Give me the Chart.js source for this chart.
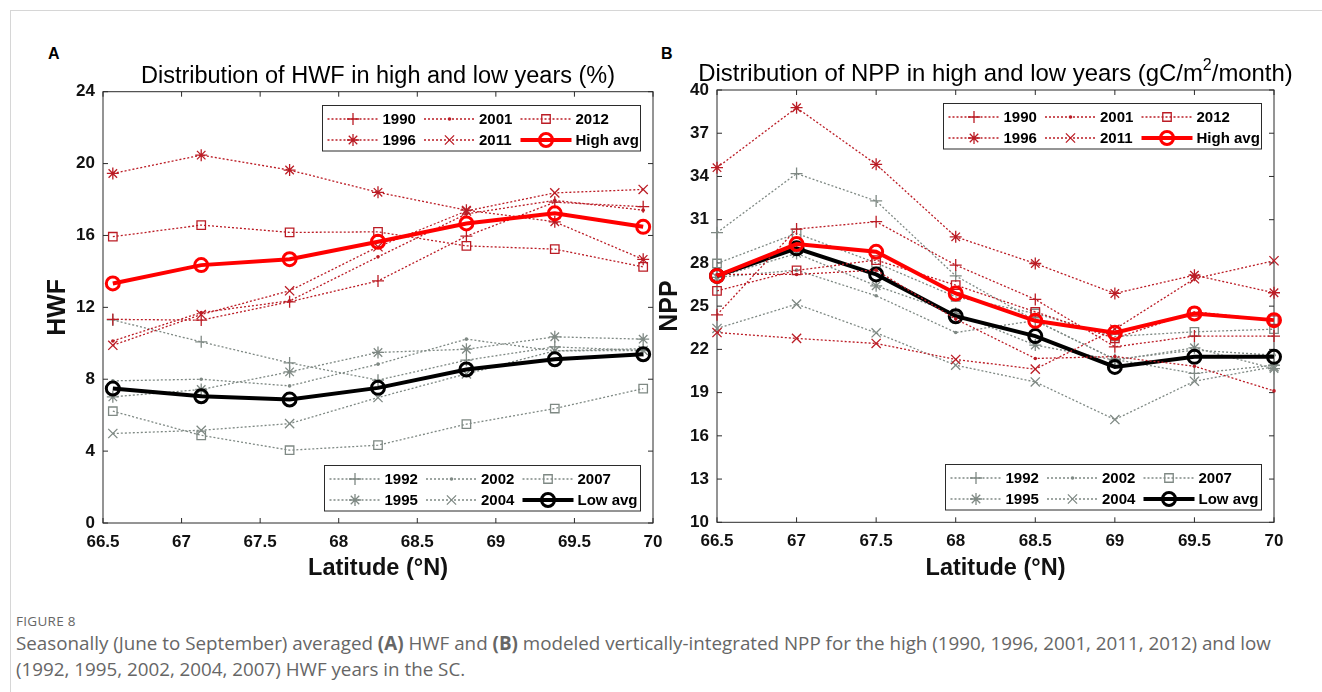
<!DOCTYPE html>
<html>
<head>
<meta charset="utf-8">
<script src="https://cdn.jsdelivr.net/npm/chart.js@4/dist/chart.umd.min.js"></script>
<style>
  body { margin: 0; background: #fff; }
  #page { position: relative; width: 1322px; height: 692px; overflow: hidden; font-family: 'Liberation Sans', Arial, sans-serif; }
  #page .rule-top { position: absolute; left: 10px; right: 0; top: 10px; border-top: 1px solid #d6d6d6; }
  #page .rule-left { position: absolute; left: 10px; top: 10px; bottom: 0; border-left: 1px solid #d6d6d6; }
  .panel-tag { position: absolute; top: 45px; font-size: 16px; font-weight: bold; color: #000; }
  canvas { position: absolute; top: 0; }
  #cap { position: absolute; left: 16px; top: 612px; color: #666; font-family: 'Open Sans', sans-serif; }
  #cap .fig { font-size: 13.5px; letter-spacing: 0.3px; }
  #cap .txt { font-size: 18.8px; line-height: 25.5px; margin-top: 1px; }
</style>
</head>
<body>
<div id="page">
  <div class="rule-top"></div>
  <div class="rule-left"></div>
  <div class="panel-tag" style="left:48px">A</div>
  <div class="panel-tag" style="left:661px">B</div>
  <canvas id="chartA" width="690" height="600" style="left:0"></canvas>
  <canvas id="chartB" width="682" height="600" style="left:640px"></canvas>
  <div id="cap">
    <div class="fig">FIGURE 8</div>
    <div class="txt">Seasonally (June to September) averaged <b>(A)</b> HWF and <b>(B)</b> modeled vertically-integrated NPP for the high (1990, 1996, 2001, 2011, 2012) and low<br>(1992, 1995, 2002, 2004, 2007) HWF years in the SC.</div>
  </div>
</div>
<script>
// latitudes of the grid rows (panel A sits on a 9/16 degree grid)
const latA = [66.5625, 67.125, 67.6875, 68.25, 68.8125, 69.375, 69.9375];
const latB = [66.5, 67, 67.5, 68, 68.5, 69, 69.5, 70];
const xTickLabels = ['66.5', '67', '67.5', '68', '68.5', '69', '69.5', '70'];

// HWF (%) -- high years
const hwf1990 = [11.33, 11.29, 12.31, 13.47, 15.96, 17.85, 17.60];
const hwf1996 = [19.45, 20.47, 19.64, 18.40, 17.41, 16.76, 14.67];
const hwf2001 = [10.13, 11.71, 12.36, 14.81, 17.20, 17.95, 17.41];
const hwf2011 = [9.89, 11.60, 12.92, 15.37, 17.36, 18.37, 18.56];
const hwf2012 = [15.93, 16.58, 16.17, 16.20, 15.42, 15.24, 14.25];
const hwfHighAvg = [13.33, 14.35, 14.68, 15.65, 16.67, 17.23, 16.48];
// HWF (%) -- low years
const hwf1992 = [11.30, 10.08, 8.91, 7.95, 9.06, 9.80, 9.60];
const hwf1995 = [7.02, 7.43, 8.41, 9.49, 9.67, 10.36, 10.23];
const hwf2002 = [7.91, 8.00, 7.63, 8.84, 10.23, 9.58, 9.70];
const hwf2004 = [4.98, 5.16, 5.53, 6.98, 8.30, 9.58, 9.60];
const hwf2007 = [6.22, 4.88, 4.05, 4.33, 5.50, 6.37, 7.48];
const hwfLowAvg = [7.48, 7.05, 6.87, 7.52, 8.54, 9.11, 9.39];

// NPP (gC/m2/month) -- high years
const npp1990 = [24.40, 30.35, 30.86, 27.85, 25.47, 22.18, 22.92, 22.92];
const npp1996 = [34.61, 38.77, 34.84, 29.81, 27.96, 25.88, 27.15, 25.93];
const npp2001 = [27.20, 27.20, 27.50, 24.10, 21.37, 21.50, 20.83, 19.12];
const npp2011 = [23.17, 22.76, 22.41, 21.30, 20.63, 23.40, 26.90, 28.15];
const npp2012 = [26.06, 27.48, 28.20, 26.46, 24.61, 22.76, 24.60, 24.03];
const nppHighAvg = [27.10, 29.31, 28.77, 25.88, 23.98, 23.15, 24.49, 24.03];
// NPP -- low years
const npp1992 = [30.10, 34.20, 32.30, 27.10, 24.00, 21.30, 20.33, 20.90];
const npp1995 = [27.00, 28.66, 26.41, 24.50, 22.30, 21.25, 22.11, 20.67];
const npp2002 = [27.00, 27.50, 25.72, 23.17, 24.00, 21.30, 21.95, 21.60];
const npp2004 = [23.45, 25.14, 23.15, 20.90, 19.74, 17.13, 19.79, 20.80];
const npp2007 = [27.96, 30.05, 28.00, 25.65, 24.49, 22.90, 23.22, 23.40];
const nppLowAvg = [27.10, 29.01, 27.20, 24.30, 22.92, 20.78, 21.48, 21.48];

const FONT = "'Liberation Sans', Arial, sans-serif";
const RED = '#bb1c25', GRAY = '#7f8984';
const MARK = {
  plus:   { pointStyle: 'cross', pointRadius: 6, pointBorderWidth: 1.3 },
  star:   { pointStyle: 'star', pointRadius: 6, pointBorderWidth: 1.3 },
  dot:    { pointStyle: 'circle', pointRadius: 1.8, pointBorderWidth: 0, filled: true },
  xmark:  { pointStyle: 'crossRot', pointRadius: 6.5, pointBorderWidth: 1.3 },
  square: { pointStyle: 'rect', pointRadius: 6, pointBorderWidth: 1.3 },
};

Chart.defaults.font.family = FONT;
Chart.defaults.color = '#111';

function yearSet(label, lats, vals, color, m, grp, order) {
  return {
    label, grp, order,
    data: lats.map((x, i) => ({ x, y: vals[i] })),
    borderColor: color, borderWidth: 1.3, borderDash: [2, 2], tension: 0, clip: false,
    pointStyle: m.pointStyle, pointRadius: m.pointRadius, pointHoverRadius: m.pointRadius,
    pointBorderWidth: m.pointBorderWidth, pointBorderColor: color,
    pointBackgroundColor: m.filled ? color : 'rgba(0,0,0,0)',
  };
}
function avgSet(label, lats, vals, color, grp, order) {
  return {
    label, grp, order,
    data: lats.map((x, i) => ({ x, y: vals[i] })),
    borderColor: color, borderWidth: 4, tension: 0, clip: false,
    pointStyle: 'circle', pointRadius: 6.5, pointHoverRadius: 6.5, pointBorderWidth: 3,
    pointBorderColor: color, pointBackgroundColor: 'rgba(0,0,0,0)',
  };
}

// box around the plot with inward ticks on all four sides
const boxTicks = {
  id: 'boxTicks',
  beforeDatasetsDraw(chart) {
    const { ctx, chartArea: a, scales: { x, y } } = chart;
    ctx.save();
    ctx.strokeStyle = '#2b2b2b';
    ctx.lineWidth = 1;
    ctx.strokeRect(a.left, a.top, a.right - a.left, a.bottom - a.top);
    ctx.beginPath();
    x.ticks.forEach(t => {
      const p = x.getPixelForValue(t.value);
      ctx.moveTo(p, a.bottom); ctx.lineTo(p, a.bottom - 5);
      ctx.moveTo(p, a.top); ctx.lineTo(p, a.top + 5);
    });
    y.ticks.forEach(t => {
      const p = y.getPixelForValue(t.value);
      ctx.moveTo(a.left, p); ctx.lineTo(a.left + 5, p);
      ctx.moveTo(a.right, p); ctx.lineTo(a.right - 5, p);
    });
    ctx.stroke();
    ctx.restore();
  }
};

// axes title centred over the plot box; parts may be superscripts
const axTitle = {
  id: 'axTitle',
  afterDraw(chart, args, opts) {
    const { ctx, chartArea: a } = chart;
    const big = opts.size + 'px ' + FONT, small = '16px ' + FONT;
    ctx.save();
    const widths = opts.parts.map(p => { ctx.font = p.sup ? small : big; return ctx.measureText(p.text).width; });
    let x = (a.left + a.right) / 2 - widths.reduce((s, w) => s + w, 0) / 2;
    const base = a.top - 8.7;
    ctx.fillStyle = '#000';
    ctx.textBaseline = 'alphabetic';
    opts.parts.forEach((p, i) => {
      ctx.font = p.sup ? small : big;
      ctx.fillText(p.text, x, p.sup ? base - 11 : base);
      x += widths[i];
    });
    ctx.restore();
  }
};

// two MATLAB-style legends inside the axes (top-right and bottom-right)
const insetLegend = {
  id: 'insetLegend',
  afterDraw(chart, args, opts) {
    const { ctx, chartArea: a } = chart;
    opts.boxes.forEach(b => {
      const sets = chart.data.datasets.filter(d => d.grp === b.grp);
      const w = b.width, h = 45.5;
      const x0 = Math.round(a.right - 13 - w) + 0.5;
      const y0 = Math.round(b.at === 'top' ? a.top + 13 : a.bottom - 13 - h) + 0.5;
      ctx.save();
      ctx.fillStyle = '#fff';
      ctx.fillRect(x0, y0, w, h);
      ctx.strokeStyle = '#2b2b2b';
      ctx.lineWidth = 1;
      ctx.strokeRect(x0, y0, w, h);
      sets.forEach((d, k) => {
        const col = Math.floor(k / 2), row = k % 2;
        const lx = x0 + 5 + col * 96.5, ly = y0 + 13.5 + row * 21;
        ctx.strokeStyle = d.borderColor;
        ctx.lineWidth = d.borderWidth;
        ctx.setLineDash(d.borderDash || []);
        ctx.beginPath(); ctx.moveTo(lx, ly); ctx.lineTo(lx + 51, ly); ctx.stroke();
        ctx.setLineDash([]);
        ctx.fillStyle = d.pointBackgroundColor;
        ctx.strokeStyle = d.pointBorderColor;
        ctx.lineWidth = d.pointBorderWidth;
        Chart.helpers.drawPoint(ctx, { pointStyle: d.pointStyle, radius: d.pointRadius, borderWidth: d.pointBorderWidth, rotation: 0 }, lx + 25.5, ly);
        ctx.fillStyle = '#000';
        ctx.font = 'bold 15px ' + FONT;
        ctx.textBaseline = 'middle';
        ctx.fillText(d.label, lx + 55, ly + 1);
      });
      ctx.restore();
    });
  }
};

function makeChart(id, cfg) {
  return new Chart(document.getElementById(id), {
    type: 'line',
    data: { datasets: cfg.datasets },
    plugins: [boxTicks, axTitle, insetLegend],
    options: {
      responsive: false, animation: false, devicePixelRatio: 1,
      layout: { padding: cfg.padding },
      plugins: {
        legend: { display: false },
        tooltip: { enabled: false },
        title: { display: false },
        axTitle: { parts: cfg.title, size: cfg.titleSize },
        insetLegend: { boxes: [{ grp: 'high', at: 'top', width: 318 }, { grp: 'low', at: 'bottom', width: 316 }] },
      },
      scales: {
        x: {
          type: 'linear', min: 66.5, max: 70,
          ticks: { stepSize: 0.5, autoSkip: false, maxRotation: 0, padding: 9, color: '#111', font: { size: 17, weight: 'bold' },
                   callback: (v, i) => xTickLabels[i] },
          grid: { display: false, drawTicks: false }, border: { display: false },
          title: { display: true, text: 'Latitude (°N)', color: '#111', font: { size: 23.5, weight: 'bold' }, padding: 0 },
          afterFit(s) { s.height = 60; },
        },
        y: {
          min: cfg.yMin, max: cfg.yMax,
          ticks: { stepSize: cfg.yStep, padding: 8, color: '#111', font: { size: 17, weight: 'bold' } },
          grid: { display: false, drawTicks: false }, border: { display: false },
          title: { display: true, text: cfg.yTitle, color: '#111', font: { size: 25, weight: 'bold' }, padding: 0 },
          afterFit(s) { s.width = cfg.yWidth; },
        },
      },
    },
  });
}

makeChart('chartA', {
  title: [{ text: 'Distribution of HWF in high and low years (%)' }], titleSize: 23.5,
  yTitle: 'HWF', yMin: 0, yMax: 24, yStep: 4, yWidth: 60,
  padding: { left: 43, right: 37, top: 91.7, bottom: 17 },
  datasets: [
    yearSet('1990', latA, hwf1990, RED, MARK.plus, 'high', 1),
    yearSet('1996', latA, hwf1996, RED, MARK.star, 'high', 1),
    yearSet('2001', latA, hwf2001, RED, MARK.dot, 'high', 1),
    yearSet('2011', latA, hwf2011, RED, MARK.xmark, 'high', 1),
    yearSet('2012', latA, hwf2012, RED, MARK.square, 'high', 1),
    avgSet('High avg', latA, hwfHighAvg, '#ff0000', 'high', 0),
    yearSet('1992', latA, hwf1992, GRAY, MARK.plus, 'low', 3),
    yearSet('1995', latA, hwf1995, GRAY, MARK.star, 'low', 3),
    yearSet('2002', latA, hwf2002, GRAY, MARK.dot, 'low', 3),
    yearSet('2004', latA, hwf2004, GRAY, MARK.xmark, 'low', 3),
    yearSet('2007', latA, hwf2007, GRAY, MARK.square, 'low', 3),
    avgSet('Low avg', latA, hwfLowAvg, '#000000', 'low', 2),
  ],
});

makeChart('chartB', {
  title: [{ text: 'Distribution of NPP in high and low years (gC/m' }, { text: '2', sup: true }, { text: '/month)' }], titleSize: 23.9,
  yTitle: 'NPP', yMin: 10, yMax: 40, yStep: 3, yWidth: 62,
  padding: { left: 15, right: 48, top: 90, bottom: 17.7 },
  datasets: [
    yearSet('1990', latB, npp1990, RED, MARK.plus, 'high', 1),
    yearSet('1996', latB, npp1996, RED, MARK.star, 'high', 1),
    yearSet('2001', latB, npp2001, RED, MARK.dot, 'high', 1),
    yearSet('2011', latB, npp2011, RED, MARK.xmark, 'high', 1),
    yearSet('2012', latB, npp2012, RED, MARK.square, 'high', 1),
    avgSet('High avg', latB, nppHighAvg, '#ff0000', 'high', 0),
    yearSet('1992', latB, npp1992, GRAY, MARK.plus, 'low', 3),
    yearSet('1995', latB, npp1995, GRAY, MARK.star, 'low', 3),
    yearSet('2002', latB, npp2002, GRAY, MARK.dot, 'low', 3),
    yearSet('2004', latB, npp2004, GRAY, MARK.xmark, 'low', 3),
    yearSet('2007', latB, npp2007, GRAY, MARK.square, 'low', 3),
    avgSet('Low avg', latB, nppLowAvg, '#000000', 'low', 2),
  ],
});
</script>
</body>
</html>
